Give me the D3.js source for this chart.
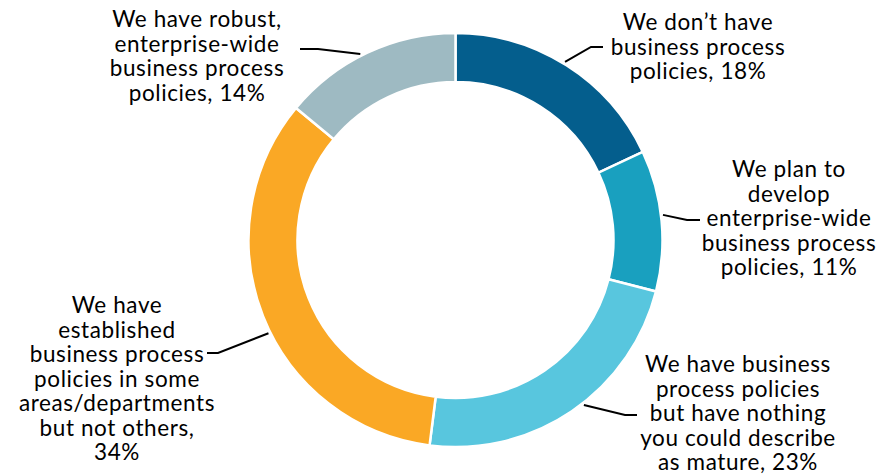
<!DOCTYPE html>
<html>
<head>
<meta charset="utf-8">
<script src="https://cdn.jsdelivr.net/npm/d3@7"></script>
<style>
  html, body { margin: 0; padding: 0; background: #fff; }
  svg { display: block; }
  text { font-family: Lato, "Open Sans", sans-serif; fill: #000; }
</style>
</head>
<body>
<svg id="chart" width="882" height="475"></svg>
<script>
// Survey answers, clockwise from 12 o'clock
const categories = [
  "We don\u2019t have business process policies",
  "We plan to develop enterprise-wide business process policies",
  "We have business process policies but have nothing you could describe as mature",
  "We have established business process policies in some areas/departments but not others",
  "We have robust, enterprise-wide business process policies"
];
const shares = [18, 11, 23, 34, 14];
const labelLines = [
  ["We don\u2019t have", "business process", "policies, 18%"],
  ["We plan to", "develop", "enterprise-wide", "business process", "policies, 11%"],
  ["We have business", "process policies", "but have nothing", "you could describe", "as mature, 23%"],
  ["We have", "established", "business process", "policies in some", "areas/departments", "but not others,", "34%"],
  ["We have robust,", "enterprise-wide", "business process", "policies, 14%"]
];
const colors = ["#045E8D", "#19A0BF", "#58C6DE", "#FAA825", "#9EBAC2"];

// Label placement: text block centre/first baseline, leader start angle on the ring, elbow points
const labelLayout = [
  { x: 698, y: 30,  leadAngle: 31.6,  elbow: [[591, 47], [603, 47]] },
  { x: 789, y: 177, leadAngle: 83.1,  elbow: [[687, 220], [700, 220]] },
  { x: 738, y: 372, leadAngle: 142.1, elbow: [[625, 415], [637, 415]] },
  { x: 117, y: 313, leadAngle: 243.5, elbow: [[218, 353], [207, 353]] },
  { x: 197, y: 27,  leadAngle: 332.9, elbow: [[318, 49], [300, 49]] }
];

const width = 882, height = 475;
const cx = 455.5, cy = 240;
const outerR = 207, innerR = 158;
const lineHeight = 24.5;

const svg = d3.select("#chart");
const g = svg.append("g").attr("transform", `translate(${cx},${cy})`);

const data = categories.map((c, i) => ({ category: c, value: shares[i], lines: labelLines[i], color: colors[i], layout: labelLayout[i] }));

const pie = d3.pie().value(d => d.value).sort(null).startAngle(0).endAngle(2 * Math.PI);
const arc = d3.arc().innerRadius(innerR).outerRadius(outerR);

g.selectAll("path.slice")
  .data(pie(data))
  .join("path")
  .attr("class", "slice")
  .attr("d", arc)
  .attr("fill", d => d.data.color)
  .attr("stroke", "#fff")
  .attr("stroke-width", 2.5)
  .attr("stroke-linejoin", "miter");

// Leader lines from the ring edge to the labels
const toRad = a => a * Math.PI / 180;
const leaderR = outerR + 2;
const line = d3.line();
svg.selectAll("path.leader")
  .data(data)
  .join("path")
  .attr("class", "leader")
  .attr("d", d => {
    const a = toRad(d.layout.leadAngle);
    const start = [cx + leaderR * Math.sin(a), cy - leaderR * Math.cos(a)];
    return line([start, ...d.layout.elbow]);
  })
  .attr("fill", "none")
  .attr("stroke", "#000")
  .attr("stroke-width", 2);

// Multi-line centred labels
const labels = svg.selectAll("text.label")
  .data(data)
  .join("text")
  .attr("class", "label")
  .attr("text-anchor", "middle")
  .attr("font-size", 22.5)
  .attr("letter-spacing", 0.6);

labels.selectAll("tspan")
  .data(d => d.lines.map((t, i) => ({ t, i, x: d.layout.x, y: d.layout.y })))
  .join("tspan")
  .attr("x", d => d.x)
  .attr("y", d => d.y + d.i * lineHeight)
  .text(d => d.t);
</script>
</body>
</html>
